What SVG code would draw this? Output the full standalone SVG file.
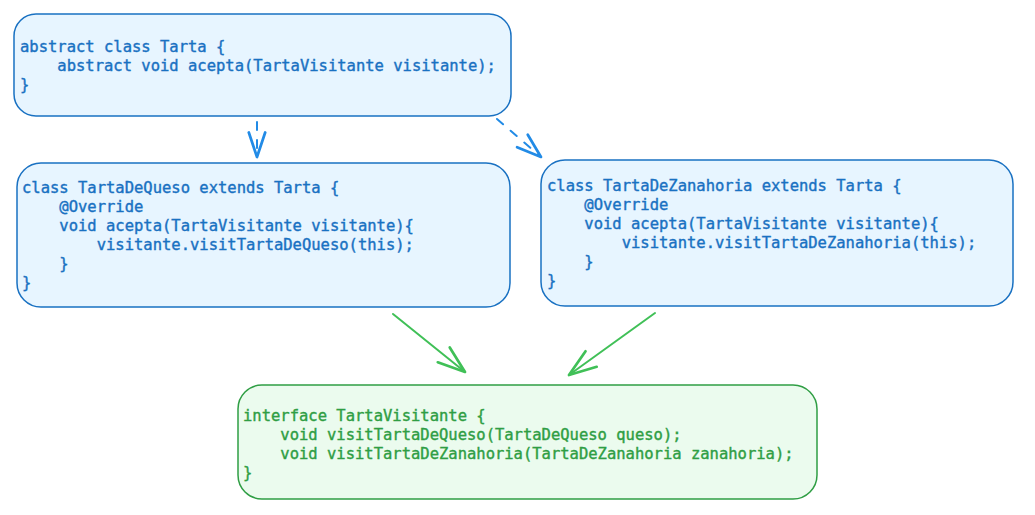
<svg xmlns="http://www.w3.org/2000/svg" width="1035" height="515" viewBox="0 0 1035 515">
<defs>
<style>
.bbox{fill:#e7f5ff;stroke:#1971c2;stroke-width:1.5}
.gbox{fill:#ebfbee;stroke:#2f9e44;stroke-width:1.5}
.code{font-family:"DejaVu Sans Mono","Liberation Mono",monospace;font-size:15.5px;white-space:pre;stroke-width:0.4}
.bt{fill:#1971c2;stroke:#1971c2}
.gt{fill:#2f9e44;stroke:#2f9e44}
.bl{fill:none;stroke:#228be6;stroke-width:2;stroke-linecap:round;stroke-dasharray:8 10}
.gl{fill:none;stroke:#40c057;stroke-width:2;stroke-linecap:round}
</style>
<marker id="ab" markerUnits="userSpaceOnUse" markerWidth="30" markerHeight="30" viewBox="-20 -10 22 20" refX="0" refY="0" orient="auto" overflow="visible">
<path d="M-18,-6 L0,0 L-18,6" fill="none" stroke="#228be6" stroke-width="2" stroke-linecap="round" stroke-linejoin="round"/>
</marker>
<marker id="ag" markerUnits="userSpaceOnUse" markerWidth="30" markerHeight="30" viewBox="-20 -10 22 20" refX="0" refY="0" orient="auto" overflow="visible">
<path d="M-20,-7 L0,0 L-20,7" fill="none" stroke="#40c057" stroke-width="2" stroke-linecap="round" stroke-linejoin="round"/>
</marker>
</defs>
<rect width="1035" height="515" fill="#ffffff"/>
<g id="connectors">
<path class="bl" d="M257,122 L257,157" marker-end="url(#ab)"/>
<path class="bl" d="M497,119 L541,157" marker-end="url(#ab)"/>
<path class="gl" d="M393,314 L465,372" marker-end="url(#ag)"/>
<path class="gl" d="M655,313 L569,375" marker-end="url(#ag)"/>
</g>
<g id="tarta">
<rect class="bbox" x="14" y="14" width="497" height="102" rx="22"/>
<text class="code bt" x="20" y="52">abstract class Tarta {</text>
<text class="code bt" x="20" y="71">    abstract void acepta(TartaVisitante visitante);</text>
<text class="code bt" x="20" y="90">}</text>
</g>
<g id="tartaDeQueso">
<rect class="bbox" x="17" y="163" width="493" height="144" rx="24"/>
<text class="code bt" x="22" y="193">class TartaDeQueso extends Tarta {</text>
<text class="code bt" x="22" y="212">    @Override</text>
<text class="code bt" x="22" y="231">    void acepta(TartaVisitante visitante){</text>
<text class="code bt" x="22" y="250">        visitante.visitTartaDeQueso(this);</text>
<text class="code bt" x="22" y="269">    }</text>
<text class="code bt" x="22" y="288">}</text>
</g>
<g id="tartaDeZanahoria">
<rect class="bbox" x="541" y="160" width="472" height="146" rx="24"/>
<text class="code bt" x="547" y="191">class TartaDeZanahoria extends Tarta {</text>
<text class="code bt" x="547" y="210">    @Override</text>
<text class="code bt" x="547" y="229">    void acepta(TartaVisitante visitante){</text>
<text class="code bt" x="547" y="248">        visitante.visitTartaDeZanahoria(this);</text>
<text class="code bt" x="547" y="267">    }</text>
<text class="code bt" x="547" y="286">}</text>
</g>
<g id="tartaVisitante">
<rect class="gbox" x="238" y="385" width="579" height="114" rx="24"/>
<text class="code gt" x="243" y="421">interface TartaVisitante {</text>
<text class="code gt" x="243" y="440">    void visitTartaDeQueso(TartaDeQueso queso);</text>
<text class="code gt" x="243" y="459">    void visitTartaDeZanahoria(TartaDeZanahoria zanahoria);</text>
<text class="code gt" x="243" y="478">}</text>
</g>
</svg>
